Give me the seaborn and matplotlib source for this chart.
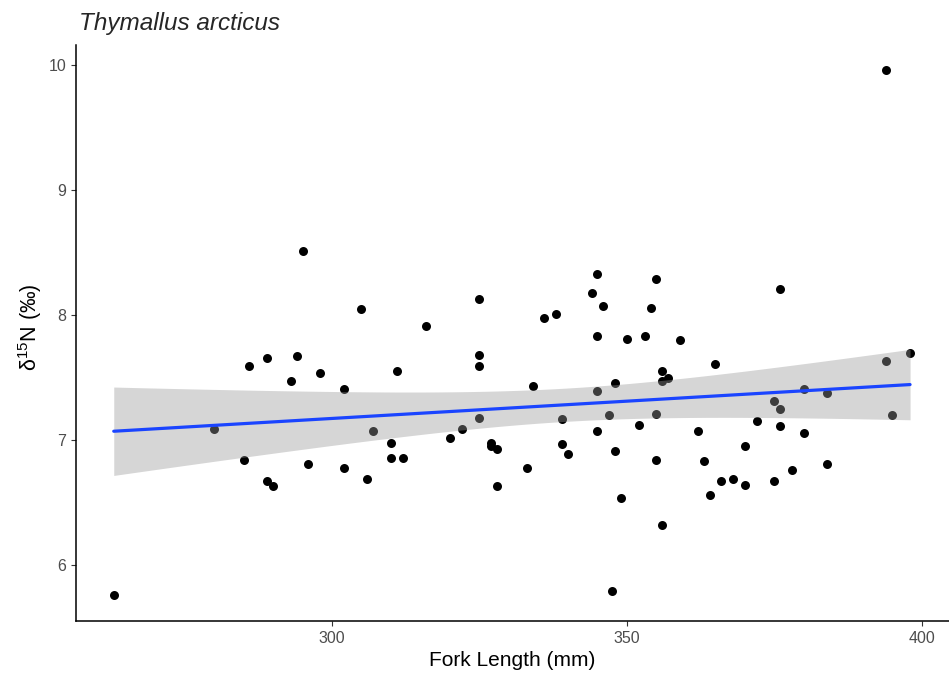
import matplotlib
matplotlib.use("Agg")
import matplotlib.pyplot as plt
import numpy as np
import pandas as pd
import seaborn as sns

# Arctic grayling: fork length vs. nitrogen stable isotope ratio
fork_length = [263, 280, 285, 286, 289, 289, 290, 293, 294, 295, 296, 298,
               302, 302, 305, 306, 307, 310, 310, 311, 312, 316, 320, 322,
               325, 325, 325, 325, 327, 327, 328, 328, 333, 334, 336, 338,
               339, 339, 340, 344, 345, 345, 345, 345, 346, 347, 347.5, 348,
               348, 349, 350, 352, 353, 354, 355, 355, 355, 356, 356, 356,
               357, 359, 362, 363, 364, 365, 366, 368, 370, 370, 372, 375,
               375, 376, 376, 376, 378, 380, 380, 384, 384, 394, 394, 395, 398]
delta15n = [5.76, 7.09, 6.84, 7.59, 7.66, 6.67, 6.63, 7.47, 7.67, 8.51, 6.81, 7.54,
            7.41, 6.78, 8.05, 6.69, 7.07, 6.98, 6.86, 7.55, 6.86, 7.91, 7.02, 7.09,
            8.13, 7.68, 7.59, 7.18, 6.98, 6.95, 6.93, 6.63, 6.78, 7.43, 7.98, 8.01,
            7.17, 6.97, 6.89, 8.18, 8.33, 7.83, 7.39, 7.07, 8.07, 7.20, 5.79, 7.46,
            6.91, 6.54, 7.81, 7.12, 7.83, 8.06, 8.29, 7.21, 6.84, 6.32, 7.55, 7.47,
            7.50, 7.80, 7.07, 6.83, 6.56, 7.61, 6.67, 6.69, 6.95, 6.64, 7.15, 7.31,
            6.67, 8.21, 7.25, 7.11, 6.76, 7.41, 7.06, 7.38, 6.81, 9.96, 7.63, 7.20, 7.70]
x_ticks = [300, 350, 400]
y_ticks = [6, 7, 8, 9, 10]

df = pd.DataFrame({"fork_length": fork_length, "d15n": delta15n})

sns.set_theme(style="white")
plt.rcParams["font.family"] = ["Liberation Sans", "DejaVu Sans"]
plt.rcParams["mathtext.fontset"] = "custom"
plt.rcParams["mathtext.rm"] = "Liberation Sans"
plt.rcParams["mathtext.it"] = "Liberation Sans:italic"

fig = plt.figure(figsize=(9.49, 6.77), dpi=100)
ax = fig.add_axes([76 / 949, 1 - 621 / 677, 873 / 949, (621 - 45) / 677])

sns.scatterplot(data=df, x="fork_length", y="d15n", ax=ax, color="black",
                s=42, linewidth=0, zorder=2)

# least-squares fit with a 95% confidence ribbon (t-based standard error)
x = df["fork_length"].to_numpy(float)
y = df["d15n"].to_numpy(float)
n = len(x)
slope, intercept = np.polyfit(x, y, 1)
resid = y - (intercept + slope * x)
s_err = np.sqrt(np.sum(resid ** 2) / (n - 2))
grid = np.linspace(x.min(), x.max(), 200)
se_fit = s_err * np.sqrt(1 / n + (grid - x.mean()) ** 2 / np.sum((x - x.mean()) ** 2))
t_crit = 1.9890  # two-sided 95%, 83 degrees of freedom
fit = intercept + slope * grid
ax.fill_between(grid, fit - t_crit * se_fit, fit + t_crit * se_fit,
                color="#999999", alpha=0.4, linewidth=0, zorder=3)

sns.regplot(data=df, x="fork_length", y="d15n", ax=ax, scatter=False, ci=None,
            color="#1a44ff", line_kws={"linewidth": 2.3, "zorder": 4})

ax.set_xlim(256.6, 404.6)
ax.set_ylim(5.552, 10.16)
ax.set_xticks(x_ticks)
ax.set_yticks(y_ticks)
ax.tick_params(axis="both", direction="out", length=3.5, width=0.8,
               color="#333333", labelcolor="#4d4d4d", labelsize=11.5, pad=3.5,
               bottom=True, left=True)

for side in ("top", "right"):
    ax.spines[side].set_visible(False)
for side in ("left", "bottom"):
    ax.spines[side].set_color("black")
    ax.spines[side].set_linewidth(1.1)

ax.set_xlabel("Fork Length (mm)", fontsize=15, color="black", labelpad=4)
ax.set_ylabel(r"δ$^{15}$N (‰)", fontsize=15.5, color="black", labelpad=7)
ax.yaxis.set_label_coords(-0.037, 0.51)
ax.set_title("Thymallus arcticus", fontsize=17.5, fontstyle="italic",
             loc="left", pad=11, x=0.003)

fig.savefig("out.png", dpi=100)
